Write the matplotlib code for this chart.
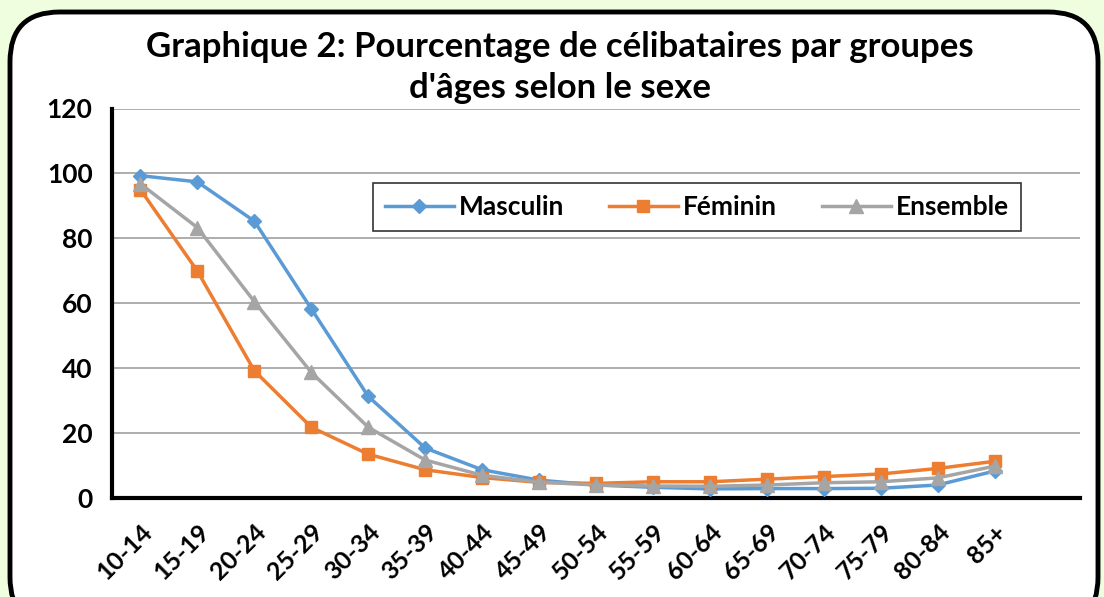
import matplotlib.pyplot as plt
from matplotlib.patches import FancyBboxPatch

# Age groups and percentages of single people
groupes = ['10-14', '15-19', '20-24', '25-29', '30-34', '35-39', '40-44', '45-49',
           '50-54', '55-59', '60-64', '65-69', '70-74', '75-79', '80-84', '85+']
masculin = [99.3, 97.4, 85.3, 58.3, 31.3, 15.4, 8.7, 5.5, 4.0, 3.3, 2.8, 2.9, 2.9, 3.0, 4.0, 8.3]
feminin = [95.0, 69.9, 39.2, 21.8, 13.5, 8.7, 6.3, 4.8, 4.5, 5.0, 5.0, 5.8, 6.6, 7.4, 9.1, 11.3]
ensemble = [96.8, 83.3, 60.5, 38.7, 21.8, 11.7, 7.0, 4.9, 4.0, 3.7, 3.6, 4.0, 4.7, 5.0, 6.2, 9.8]
yticks = [0, 20, 40, 60, 80, 100, 120]

plt.rcParams['font.family'] = ['Lato', 'DejaVu Sans']

fig = plt.figure(figsize=(11.04, 5.97), dpi=100)
fig.patch.set_facecolor('#effedf')

# white rounded frame
frame = FancyBboxPatch((10 / 1104, -0.05), 1088 / 1104, 1.05 - 12 / 597,
                       boxstyle='round,pad=0,rounding_size=0.045',
                       transform=fig.transFigure, facecolor='white',
                       edgecolor='black', linewidth=3.5, zorder=-5,
                       mutation_aspect=1104 / 597)
fig.patches.append(frame)

ax = fig.add_axes([112 / 1104, 1 - 498 / 597, 968 / 1104, (498 - 108.5) / 597])
ax.set_facecolor('none')
ax.set_zorder(2)

x = range(len(groupes))
ax.plot(x, masculin, color='#5b9bd5', lw=2.5, marker='D', ms=7.5, label='Masculin', zorder=3)
ax.plot(x, feminin, color='#ed7d31', lw=2.5, marker='s', ms=8.5, label='Féminin', zorder=3)
ax.plot(x, ensemble, color='#a5a5a5', lw=2.5, marker='^', ms=10, label='Ensemble', zorder=3)

ax.set_xlim(-0.5, 16.5)
ax.set_ylim(0, 120)
ax.set_yticks(yticks)
ax.set_yticklabels([str(v) for v in yticks], fontsize=19, fontweight='bold')
ax.set_xticks(list(x))
ax.set_xticklabels(groupes, rotation=45, ha='right', rotation_mode='anchor',
                   fontsize=18, fontweight='bold')
ax.tick_params(axis='both', length=0)
ax.tick_params(axis='y', pad=14)
ax.tick_params(axis='x', pad=16)

ax.grid(axis='y', color='#a0a0a0', lw=1.2)
ax.set_axisbelow(True)
for s in ['top', 'right']:
    ax.spines[s].set_visible(False)
for s in ['left', 'bottom']:
    ax.spines[s].set_linewidth(3)
    ax.spines[s].set_color('black')

leg = ax.legend(ncol=3, loc='center', bbox_to_anchor=(697 / 1104, 1 - 207 / 597),
                bbox_transform=fig.transFigure, frameon=True,
                fancybox=False, edgecolor='black', handlelength=2.6,
                columnspacing=1.7, borderpad=0.45, borderaxespad=0,
                handletextpad=0.2, prop={'weight': 'bold', 'size': 19})
leg.get_frame().set_linewidth(1.2)

fig.text(560 / 1104, 1 - 47 / 597, 'Graphique 2: Pourcentage de célibataires par groupes',
         ha='center', va='center', fontsize=25, fontweight='bold')
fig.text(560 / 1104, 1 - 88 / 597, "d'âges selon le sexe",
         ha='center', va='center', fontsize=25, fontweight='bold')

fig.savefig('out.png', dpi=100, facecolor=fig.get_facecolor())
